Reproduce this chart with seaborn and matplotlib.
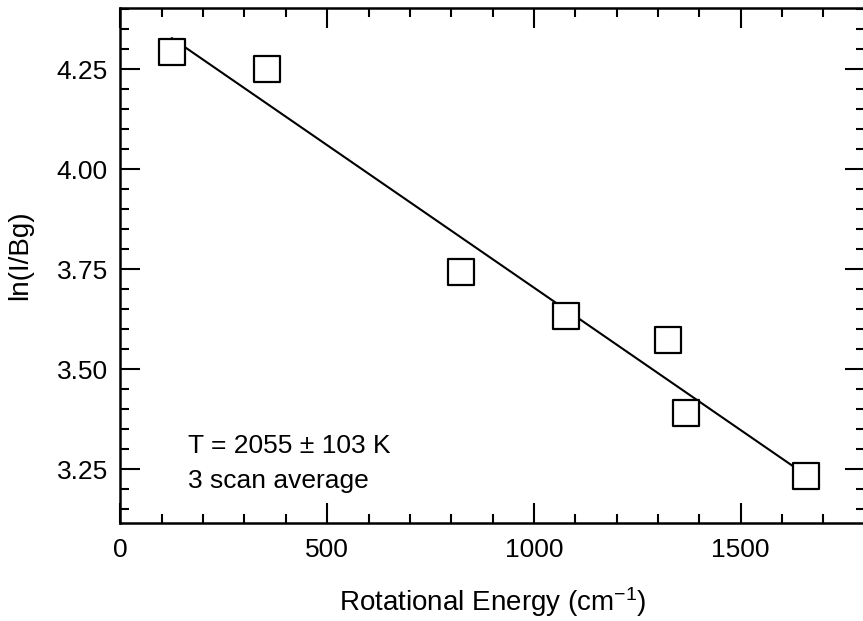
import seaborn as sns
import matplotlib
matplotlib.use('Agg')
import matplotlib.pyplot as plt
from matplotlib.ticker import MultipleLocator, FormatStrFormatter
import pandas as pd

# Rotational Boltzmann plot
energy = [124, 355, 824, 1077, 1324, 1369, 1658]          # cm^-1
ln_ratio = [4.294, 4.251, 3.742, 3.634, 3.574, 3.391, 3.233]  # ln(I/Bg)
temp_note = 'T = 2055 ± 103 K'
scan_note = '3 scan average'

df = pd.DataFrame({'energy': energy, 'ln_ratio': ln_ratio})

sns.set_style('ticks')
plt.rcParams['font.family'] = ['Liberation Sans', 'DejaVu Sans']
plt.rcParams['mathtext.default'] = 'regular'
plt.rcParams['text.color'] = 'black'
plt.rcParams['axes.labelcolor'] = 'black'

fig = plt.figure(figsize=(8.63, 6.21), dpi=100)
# right spine sits just past the image edge, as in the scan
ax = fig.add_axes([0.1396, 0.1583, 0.8622, 0.8288])

# fitted line, only over the data range
sns.regplot(data=df, x='energy', y='ln_ratio', ax=ax, scatter=False,
            ci=None, truncate=True, color='black',
            line_kws=dict(lw=1.5, zorder=2))

sns.scatterplot(data=df, x='energy', y='ln_ratio', ax=ax, marker='s',
                s=340, facecolor='white', edgecolor='black',
                linewidth=1.6, zorder=3, legend=False)

ax.set_xlim(0, 1800)
ax.set_ylim(3.116, 4.403)

ax.xaxis.set_major_locator(MultipleLocator(500))
ax.xaxis.set_minor_locator(MultipleLocator(100))
ax.yaxis.set_major_locator(MultipleLocator(0.25))
ax.yaxis.set_minor_locator(MultipleLocator(0.05))
ax.yaxis.set_major_formatter(FormatStrFormatter('%.2f'))

ax.tick_params(which='both', direction='in', top=True, right=True,
               width=1.5, labelsize=19, colors='black')
ax.tick_params(which='major', length=14.5)
ax.tick_params(which='minor', length=6.5)
ax.tick_params(axis='x', pad=11)
ax.tick_params(axis='y', pad=9)

for side in ax.spines.values():
    side.set_linewidth(1.8)
    side.set_color('black')

ax.set_xlabel('Rotational Energy (cm$^{-1}$)', fontsize=20, va='baseline')
ax.set_ylabel('ln(I/Bg)', fontsize=20)
ax.xaxis.set_label_coords(0.5, -0.172)
ax.yaxis.set_label_coords(-0.117, 0.52)

ax.text(0.091, 0.135, temp_note, transform=ax.transAxes, fontsize=19,
        va='baseline', ha='left')
ax.text(0.091, 0.067, scan_note, transform=ax.transAxes, fontsize=19,
        va='baseline', ha='left')

fig.savefig('out.png', dpi=100)
